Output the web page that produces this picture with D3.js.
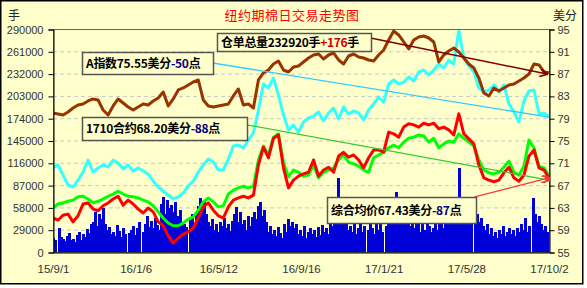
<!DOCTYPE html>
<html>
<head>
<meta charset="utf-8">
<script src="https://cdn.jsdelivr.net/npm/d3@7"></script>
<style>
  body { margin: 0; background: #fff; }
  svg text { font-family: "Liberation Sans", Arial, sans-serif; }
  .cjk { font-family: "Noto Sans CJK SC", sans-serif; }
</style>
</head>
<body>
<div class="chart"></div>
<script>
// date range of the chart
var dateStart = new Date(2015, 8, 1);
var dateEnd = new Date(2017, 9, 2);
var xTickDates = ["2015-09-01", "2016-01-06", "2016-05-12", "2016-09-16", "2017-01-21", "2017-05-28", "2017-10-02"];
var leftTicks = d3.range(0, 290001, 29000);   // 手
var rightTicks = d3.range(55, 96, 4);          // 美分

// 仓单总量 (手), left axis
var receipts = [180800,179500,178200,182100,187300,191200,192500,196400,199000,197700,
  184700,178200,189900,199000,193800,188600,184700,188600,192500,191200,
  196400,200300,208100,189900,199000,210700,213300,217200,221100,223700,
  197700,189900,188600,189900,191200,192500,202900,212000,191200,192500,
  187300,223700,232800,236700,244500,248400,236700,234100,240600,241900,
  247100,252300,256200,257500,251000,256200,258800,249700,244500,254900,
  257500,253600,252300,249700,248400,256200,262700,275700,287400,282200,
  273100,264000,275700,279600,280900,278300,273100,247100,256200,261400,
  265300,260100,252300,244500,239300,226300,206800,202900,213300,209400,
  213300,217200,218500,222400,226300,231500,244500,243200,234100,232920];

// A指数 (美分), right axis
var indexA = [70.07,70.61,68.81,67.02,66.66,67.91,69.35,71.50,69.35,70.07,
  70.61,70.25,71.50,70.96,69.89,70.61,69.53,70.07,69.53,68.99,
  67.74,66.66,65.94,65.22,64.51,64.87,65.58,66.84,67.74,69.35,
  70.61,71.68,71.14,69.71,69.71,71.68,74.01,74.19,73.65,75.09,
  76.35,80.47,85.13,84.42,86.21,83.16,79.57,76.88,77.78,76.52,
  78.32,79.04,79.39,80.11,78.50,79.93,80.83,78.86,81.01,79.75,
  80.29,79.93,78.68,80.47,81.55,82.80,81.91,85.13,85.85,85.13,
  85.49,86.39,85.67,87.29,87.65,86.75,87.65,88.72,88.00,89.44,
  88.72,94.82,89.80,88.36,87.29,84.42,83.70,84.06,84.96,83.70,
  84.96,81.55,80.11,78.32,82.09,83.88,84.06,79.75,79.93,79.22];

// 1710合约 (美分), right axis
var contract1710 = [61.1,60.7,61.6,61.8,60.4,61.5,63.6,63.8,62.7,62.4,
  63.3,63.8,64.5,65.0,63.4,64.3,63.6,62.7,62.0,62.9,
  62.2,60.4,59.7,57.9,56.6,57.5,58.2,58.6,59.3,61.1,
  63.1,63.8,62.5,61.5,61.1,63.1,64.3,64.7,65.0,64.7,
  65.2,70.6,73.8,71.9,75.4,76.0,70.1,66.5,67.9,68.6,
  69.0,69.3,71.5,68.6,69.7,70.2,69.3,72.2,72.9,72.0,
  72.4,71.5,70.1,71.9,73.3,73.3,72.9,76.5,76.2,75.6,
  77.4,78.0,77.8,77.4,78.1,77.8,78.1,77.1,77.4,76.9,
  76.0,79.8,76.2,75.3,74.4,70.6,68.3,67.9,67.6,67.9,
  69.2,70.2,68.3,67.7,68.8,72.2,73.3,70.1,69.7,68.2];

// 综合均价 (美分), right axis
var avgPrice = [62.9,63.6,63.8,64.1,64.3,64.9,65.0,64.5,63.8,64.1,
  64.5,65.0,65.4,65.9,65.4,65.0,64.9,64.7,64.3,64.0,
  63.3,62.2,61.1,60.2,59.7,59.7,60.2,60.9,61.3,62.5,
  64.0,64.7,64.0,63.1,63.3,65.4,66.1,66.5,66.8,66.5,
  66.8,71.5,74.0,72.4,75.6,76.2,71.1,68.5,69.7,69.3,
  68.6,68.8,70.6,68.3,69.3,69.7,70.1,71.5,72.4,71.1,
  70.8,70.4,69.7,69.3,71.9,72.4,72.9,73.7,74.2,73.7,
  74.7,75.4,75.6,76.0,75.8,74.7,75.4,73.7,74.4,74.9,
  74.7,76.2,75.4,74.7,74.0,71.5,69.7,69.2,69.0,69.3,
  70.2,71.3,69.3,68.8,70.4,75.1,73.7,70.4,70.1,68.6];

// 成交量 (手), left axis
var volume = [18200,15600,0,31200,19500,16900,14300,20800,24700,15600,
  16900,13000,22100,26000,15600,23400,19500,29900,24700,36400,
  39000,52000,33800,49400,42900,57200,36400,28600,32500,23400,
  26000,20800,35100,27300,19500,31200,23400,0,24700,28600,
  33800,22100,31200,39000,0,26000,36400,46800,32500,40300,
  31200,44200,35100,28600,62400,71500,49400,67600,57200,61100,
  52000,65000,46800,54600,39000,36400,32500,0,41600,49400,
  36400,52000,59800,70200,54600,65000,49400,39000,33800,42900,
  28600,36400,26000,39000,33800,44200,31200,36400,27300,40300,
  49400,58500,39000,52000,36400,41600,28600,46800,33800,45500,
  52000,42900,59800,65000,46800,54600,39000,26000,33800,23400,
  28600,20800,32500,24700,18200,36400,26000,42900,33800,39000,
  31200,36400,23400,28600,20800,33800,18200,26000,31200,23400,
  28600,19500,32500,22100,35100,26000,31200,23400,36400,33800,
  44200,57200,96200,52000,67600,46800,39000,28600,33800,26000,
  36400,23400,31200,41600,26000,33800,0,28600,39000,31200,
  23400,36400,28600,42900,26000,0,33800,46800,39000,59800,
  67600,78000,57200,46800,36400,52000,41600,49400,33800,39000,
  31200,44200,36400,26000,39000,28600,41600,33800,26000,31200,
  39000,28600,46800,36400,31200,41600,49400,39000,54600,44200,
  52000,41600,109200,46800,59800,39000,52000,36400,44200,0,
  54600,49400,39000,44200,33800,28600,36400,23400,31200,20800,
  26000,18200,28600,23400,33800,20800,26000,31200,23400,28600,
  20800,31200,26000,36400,28600,44200,26000,33800,0,70200,
  49400,39000,46800,36400,28600,33800,26000,20800];

// trend lines: [date, value]
var trendReceipts = [["2017-01-01", 278300], ["2017-09-29", 231500]];
var trendIndex = [["2016-05-03", 88.9], ["2017-10-02", 79.2]];
var trendContract = [["2016-06-25", 77.8], ["2017-10-02", 67.9]];
var trendAvg = [["2017-06-10", 64.9], ["2017-10-02", 68.3]];

function drawChart() {
  var w = 587, h = 288;
  var pLeft = 53, pRight = 549, pTop = 29, pBottom = 252;
  var parse = d3.timeParse("%Y-%m-%d");

  function spread(n) { // evenly spaced sample dates across the range
    return d3.range(n).map(function(i){ return new Date(+dateStart + i * (dateEnd - dateStart) / (n - 1)); });
  }

  var svg = d3.select(".chart").append("svg")
    .attr("width", w).attr("height", h);

  svg.append("rect").attr("x", 0.75).attr("y", 0.75).attr("width", 582).attr("height", 283)
    .attr("fill", "#FFFFCC").attr("stroke", "#000").attr("stroke-width", 1.5);

  var x = d3.scaleTime().domain([dateStart, dateEnd]).range([pLeft, pRight]);
  var yL = d3.scaleLinear().domain([0, 290000]).range([pBottom, pTop]);
  var yR = d3.scaleLinear().domain([55, 95]).range([pBottom, pTop]);

  // grid
  svg.append("g").selectAll("line").data(leftTicks.slice(1, -1)).enter().append("line")
    .attr("x1", pLeft).attr("x2", pRight)
    .attr("y1", function(d){ return yL(d) + 0.5; }).attr("y2", function(d){ return yL(d) + 0.5; })
    .attr("stroke", "#c8c8c8").attr("stroke-dasharray", "4,3");

  svg.append("clipPath").attr("id", "plot").append("rect")
    .attr("x", pLeft).attr("y", pTop).attr("width", pRight - pLeft).attr("height", pBottom - pTop);
  var plot = svg.append("g").attr("clip-path", "url(#plot)");

  // volume bars
  var vDates = spread(volume.length);
  var bw = (pRight - pLeft) / (volume.length - 1);
  plot.append("g").attr("shape-rendering", "crispEdges")
    .selectAll("rect").data(volume).enter().append("rect")
    .attr("x", function(d, i){ return Math.round(x(vDates[i]) - bw / 2); })
    .attr("width", Math.ceil(bw))
    .attr("y", function(d){ return yL(d); })
    .attr("height", function(d){ return pBottom - yL(d); })
    .attr("fill", "#0000D8");

  var lDates = spread(receipts.length);
  function drawLine(data, y, color) {
    plot.append("path").datum(data)
      .attr("fill", "none").attr("stroke", color).attr("stroke-width", 3)
      .attr("stroke-linejoin", "round")
      .attr("d", d3.line().x(function(d, i){ return x(lDates[i]); }).y(function(d){ return y(d); }));
  }
  drawLine(avgPrice, yR, "#00FF00");
  drawLine(contract1710, yR, "#FF0000");
  drawLine(indexA, yR, "#33FFFF");
  drawLine(receipts, yL, "#993300");

  // axes frame
  svg.append("rect").attr("x", pLeft + 0.5).attr("y", pTop + 0.5).attr("width", pRight - pLeft).attr("height", pBottom - pTop)
    .attr("fill", "none").attr("stroke", "#666");

  var axL = svg.append("g").attr("transform", "translate(" + (pLeft + 0.5) + ",0.5)")
    .call(d3.axisLeft(yL).tickValues(leftTicks).tickSize(5).tickPadding(5).tickFormat(d3.format("d")));
  var axR = svg.append("g").attr("transform", "translate(" + (pRight + 0.5) + ",0.5)")
    .call(d3.axisRight(yR).tickValues(rightTicks).tickSize(5).tickPadding(3));
  var axB = svg.append("g").attr("transform", "translate(0," + (pBottom + 0.5) + ")")
    .call(d3.axisBottom(x).tickValues(xTickDates.map(parse)).tickSize(0).tickPadding(12)
      .tickFormat(d3.timeFormat("%y/%-m/%-d")));
  [axL, axR, axB].forEach(function(a){
    a.selectAll("text").attr("font-size", 11).attr("fill", "#333")
      .attr("font-family", "'Liberation Sans', Arial, sans-serif");
    a.select(".domain").attr("stroke", "#000");
  });
  axB.selectAll("text").attr("font-size", 11.5);

  // trend lines
  var defs = svg.append("defs");
  function arrow(id, color) {
    defs.append("marker").attr("id", id).attr("viewBox", "0 0 10 10").attr("refX", 9).attr("refY", 5)
      .attr("markerWidth", 8).attr("markerHeight", 8).attr("orient", "auto").attr("markerUnits", "userSpaceOnUse")
      .append("path").attr("d", "M0,0L10,5L0,10").attr("fill", "none").attr("stroke", color).attr("stroke-width", 2);
  }
  arrow("arB", "#800000");
  arrow("arR", "#FF3333");
  function trend(pts, y, color, width, marker) {
    var l = svg.append("line")
      .attr("x1", x(parse(pts[0][0]))).attr("y1", y(pts[0][1]))
      .attr("x2", x(parse(pts[1][0]))).attr("y2", y(pts[1][1]))
      .attr("stroke", color).attr("stroke-width", width);
    if (marker) l.attr("marker-end", "url(#" + marker + ")");
  }
  trend(trendIndex, yR, "#33CCFF", 1.3);
  trend(trendContract, yR, "#33CC33", 1.3, "arR");
  trend(trendAvg, yR, "#FF3333", 1.3, "arR");
  trend(trendReceipts, yL, "#800000", 1.5, "arB");

  // label boxes
  function box(bx, by, bwid, bht, parts) {
    svg.append("rect").attr("x", bx + 0.5).attr("y", by + 0.5).attr("width", bwid).attr("height", bht)
      .attr("fill", "#FFFFCC").attr("stroke", "#555").attr("stroke-width", 1.5);
    var t = svg.append("text").attr("class", "cjk").attr("x", bx + 4).attr("y", by + bht / 2 + 4.5)
      .attr("font-size", 12).attr("font-weight", "bold").attr("letter-spacing", -0.3);
    parts.forEach(function(p){ t.append("tspan").attr("fill", p[1]).text(p[0]); });
  }
  box(217, 33, 154, 18, [["仓单总量232920手", "#000"], ["+176", "#CC0000"], ["手", "#000"]]);
  box(82, 52, 131, 22, [["A指数75.55美分", "#000"], ["-50", "#000080"], ["点", "#000"]]);
  box(82, 117, 165, 23, [["1710合约68.20美分", "#000"], ["-88", "#000080"], ["点", "#000"]]);
  box(327, 197, 149, 26, [["综合均价67.43美分", "#000"], ["-87", "#000080"], ["点", "#000"]]);

  // titles
  svg.append("text").attr("class", "cjk").attr("x", 292).attr("y", 20).attr("text-anchor", "middle")
    .attr("font-size", 13).attr("letter-spacing", 0.5).attr("fill", "#FF0000").text("纽约期棉日交易走势图");
  svg.append("text").attr("class", "cjk").attr("x", 8).attr("y", 20)
    .attr("font-size", 12).attr("fill", "#222").text("手");
  svg.append("text").attr("class", "cjk").attr("x", 553).attr("y", 20)
    .attr("font-size", 12).attr("fill", "#222").text("美分");
}
drawChart();
</script>
</body>
</html>
